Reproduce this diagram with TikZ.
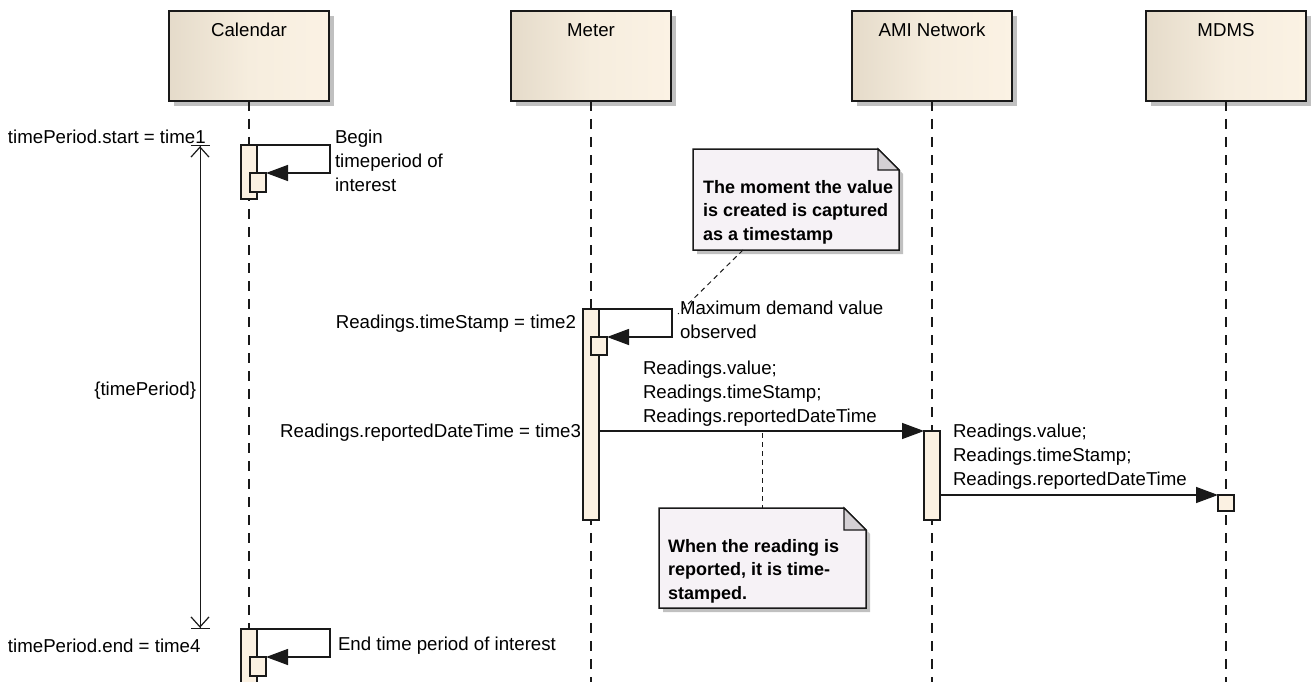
\documentclass[tikz,border=0pt]{standalone}
\usepackage{fontspec}
\setmainfont{Liberation Sans}
\usetikzlibrary{arrows.meta,shadows,calc}
\definecolor{hdark}{RGB}{229,219,202}
\definecolor{hmid}{RGB}{246,237,222}
\definecolor{hlight}{RGB}{251,242,228}
\definecolor{actfill}{RGB}{251,241,226}
\definecolor{notefill}{RGB}{246,242,246}
\definecolor{foldfill}{RGB}{212,208,212}
\definecolor{shadowc}{RGB}{192,192,192}
\definecolor{linec}{RGB}{25,25,25}
\begin{document}
\begin{tikzpicture}[x=1pt,y=-1pt,
  every node/.style={inner sep=0pt, outer sep=0pt, font=\fontsize{18.67}{24}\selectfont},
  hdr/.style={rectangle, draw=linec, line width=1.5pt, minimum width=160pt, minimum height=90pt,
    left color=hdark, right color=hlight, middle color=hmid,
    drop shadow={shadow xshift=5pt, shadow yshift=-5pt, fill=shadowc, opacity=1}},
  act/.style={rectangle, draw=linec, line width=1.3pt, fill=actfill, minimum width=16pt},
  life/.style={draw=linec, line width=1.2pt, dash pattern=on 10pt off 8pt},
  msg/.style={draw=linec, line width=1.4pt, -{Triangle[length=22pt,width=16pt]}},
  dur/.style={draw=linec, line width=1pt,
    {Bar[width=19pt,line width=1.2pt]Straight Barb[length=10pt,width=18pt,line width=1.2pt]}-{Straight Barb[length=10pt,width=18pt,line width=1.2pt]Bar[width=19pt,line width=1.2pt]}},
  notelink/.style={draw=linec, line width=1pt, dash pattern=on 5pt off 4pt},
  notebox/.style={rectangle, minimum width=#1},
  note/.style={draw=linec, line width=1.5pt, fill=notefill,
    drop shadow={shadow xshift=4pt, shadow yshift=-4pt, fill=shadowc, opacity=1}},
  fold/.style={draw=linec, line width=1.2pt, fill=foldfill},
  notetext/.style={font=\fontsize{18}{23.5}\selectfont\bfseries, align=left, anchor=north west},
  lbl/.style={align=left, anchor=north west}
]
\useasboundingbox[fill=white] (0,0) rectangle (1314,682);

% headers
\node[hdr, anchor=north] (cal) at (249,11) {};
\node[hdr, anchor=north] (met) at (591,11) {};
\node[hdr, anchor=north] (ami) at (932,11) {};
\node[hdr, anchor=north] (mdm) at (1226,11) {};
\node (calT) at (249,30) {Calendar};
\node (metT) at (591,30) {Meter};
\node (amiT) at (932,30) {AMI Network};
\node (mdmT) at (1226,30) {MDMS};

% lifelines
\coordinate (calE) at (249,682);
\coordinate (metE) at (591,682);
\coordinate (amiE) at (932,682);
\coordinate (mdmE) at (1226,682);
\draw[life] (cal) -- (calE);
\draw[life] (met) -- (metE);
\draw[life] (ami) -- (amiE);
\draw[life] (mdm) -- (mdmE);

% activations
\node[act, anchor=north, minimum height=54pt] (calA) at (249,145) {};
\node[act, anchor=north, minimum height=19pt] (calAs) at (258,173) {};
\node[act, anchor=north, minimum height=211pt] (metA) at (591,309) {};
\node[act, anchor=north, minimum height=18pt] (metAs) at (599,337) {};
\node[act, anchor=north, minimum height=89pt] (amiA) at (932,431) {};
\node[act, anchor=north, minimum height=16pt] (mdA) at (1226,495) {};
\node[act, anchor=north, minimum height=58pt] (calB) at (249,629) {};
\node[act, anchor=north, minimum height=19pt] (calBs) at (258,657) {};

% messages
\draw[msg] (calA.north east) -- ++(73,0) |- (calAs.north east);
\draw[msg] (metA.north east) -- ++(73,0) |- (metAs.north east);
\draw[msg] (metA.north east |- amiA.north west) -- (amiA.north west);
\draw[msg] (amiA.north east |- mdA.north west) -- (mdA.north west);
\draw[msg] (calB.north east) -- ++(73,0) |- (calBs.north east);

% duration
\coordinate (dTop) at (200,145);
\coordinate (dBot) at (200,629);
\draw[dur] (dTop) -- (dBot);

% labels
\node[anchor=base west] (lStart) at (8,143) {timePeriod.start = time1};
\node[anchor=base east] (lPer) at (196,395) {\{timePeriod\}};
\node[anchor=base west] (lEnd) at (8,652) {timePeriod.end = time4};
\node[anchor=base east] (lTs) at (576,328) {Readings.timeStamp = time2};
\node[anchor=base east] (lRd) at (581,437) {Readings.reportedDateTime = time3};
\node[lbl] (lBegin) at (335,130) {Begin\\timeperiod of\\interest};
\node[anchor=base west] (lEndI) at (338,650) {End time period of interest};
\node[lbl] (lMax) at (680,301) {Maximum demand value\\observed};
\node[lbl] (lM1) at (643,361) {Readings.value;\\Readings.timeStamp;\\Readings.reportedDateTime};
\node[lbl] (lM2) at (953,424) {Readings.value;\\Readings.timeStamp;\\Readings.reportedDateTime};

% note 1
\node[notebox=206pt, minimum height=101pt, anchor=north west] (n1) at (693,149) {};
\filldraw[note] (n1.north west) -- ($(n1.north east)+(-21,0)$) -- ($(n1.north east)+(0,21)$)
  -- (n1.south east) -- (n1.south west) -- cycle;
\filldraw[fold] ($(n1.north east)+(-21,0)$) -- ($(n1.north east)+(-21,21)$) -- ($(n1.north east)+(0,21)$) -- cycle;
\node[notetext] (n1t) at (703,180) {The moment the value\\is created is captured\\as a timestamp};
\coordinate (c1) at (678,314);
\draw[notelink] (n1.south -| 743,0) -- (c1);

% note 2
\node[notebox=207pt, minimum height=100pt, anchor=north west] (n2) at (659,508) {};
\filldraw[note] (n2.north west) -- ($(n2.north east)+(-22,0)$) -- ($(n2.north east)+(0,22)$)
  -- (n2.south east) -- (n2.south west) -- cycle;
\filldraw[fold] ($(n2.north east)+(-22,0)$) -- ($(n2.north east)+(-22,22)$) -- ($(n2.north east)+(0,22)$) -- cycle;
\node[notetext] (n2t) at (668,539) {When the reading is\\reported, it is time-\\stamped.};
\coordinate (c2) at (762,433);
\draw[notelink] (c2) -- (n2.north -| c2);
\end{tikzpicture}
\end{document}
